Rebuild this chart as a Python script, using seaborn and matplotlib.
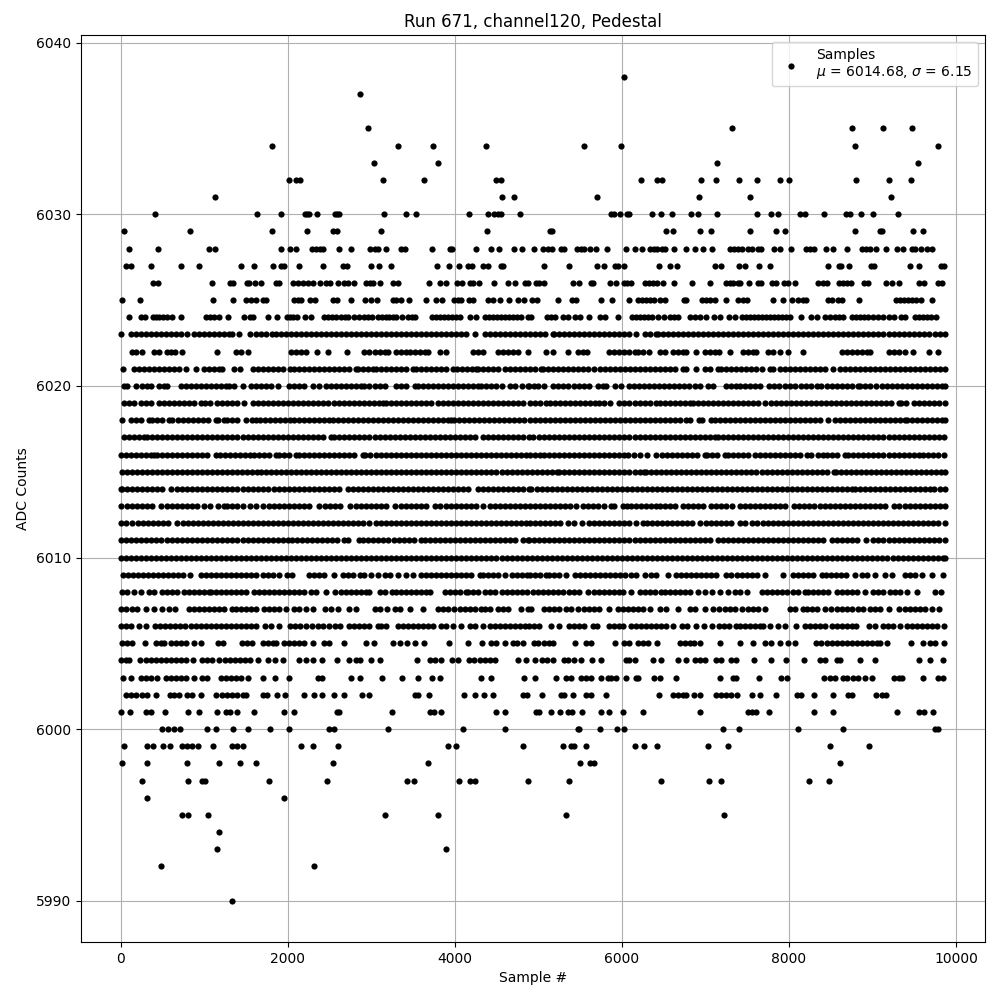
import pandas as pd
import matplotlib
matplotlib.use("Agg")
import matplotlib.pyplot as plt
import seaborn as sns

# sample numbers, one list per ADC level
s6038 = [6024]
s6037 = [2864]
s6035 = [2960, 7320, 8760, 9132, 9468]
s6034 = [1808, 3320, 3740, 4376, 5544, 5988, 8796, 9780]
s6033 = [3032, 3800, 7140, 9540]
s6032 = [2012, 2096, 2144, 3140, 3632, 4496, 4556, 6228, 6416, 6480, 6948, 7128, 7404, 7620, 7896, 8004, 8808, 9192, 9456]
s6031 = [1136, 4568, 4712, 5700, 6924, 7536, 9216]
s6030 = [416, 1628, 1916, 2204, 2228, 2252, 2348, 2564, 2588, 2612, 3152, 3416, 3536, 4172, 4400, 4472, 4520, 4556, 4784,
         5868, 5904, 5976, 6060, 6084, 6360, 6468, 6600, 6828, 6912, 7140, 7620, 7788, 7872, 8136, 8196, 8424, 8688, 8736, 8868, 9012, 9300]
s6029 = [44, 836, 1808, 2228, 2540, 2588, 3116, 4388, 5140, 5164, 6528, 6612, 6936, 7068, 7536, 7848, 7956, 8796, 9096, 9120, 9480, 9600]
s6028 = [104, 452, 1064, 1136, 1916, 2024, 2096, 2288, 2336, 2384, 2420, 2612, 2756, 2984, 3044, 3080, 3176, 3356, 3404, 3728, 3944, 3968,
         4256, 4436, 4532, 4712, 4808, 4948, 5052, 5112, 5160, 5268, 5304, 5460, 5508, 5544, 5616, 5688, 5820, 6048, 6156, 6240, 6336, 6384,
         6420, 6480, 6516, 6624, 6768, 6876, 6972, 7080, 7296, 7344, 7392, 7440, 7512, 7560, 7632, 7668, 7824, 7896, 8028, 8208, 8256, 8304,
         8448, 8532, 8700, 8880, 8928, 8976, 9048, 9168, 9288, 9360, 9468, 9504, 9576, 9648, 9708]
s6027 = [68, 128, 368, 728, 944, 1448, 1592, 1820, 1916, 1952, 2132, 2420, 2660, 2708, 2996, 3092, 3236, 3788, 3932, 4052, 4160, 4208, 4340,
         4400, 4556, 4580, 5064, 5364, 5700, 5784, 5916, 5952, 6024, 6444, 6576, 6660, 7116, 7188, 7404, 7476, 7644, 7776, 8472, 8604, 8628,
         8724, 8988, 9024, 9444, 9552, 9820, 9860]
s6026 = [392, 452, 1092, 1316, 1352, 1508, 1532, 1604, 1676, 1856, 1892, 2060, 2120, 2180, 2240, 2300, 2384, 2456, 2504, 2600, 2672, 2720,
         2800, 2936, 2984, 3020, 3104, 3260, 3320, 3692, 3824, 3896, 4028, 4088, 4184, 4220, 4292, 4472, 4640, 4724, 4844, 4880, 4968, 5004,
         5064, 5412, 5484, 5628, 5652, 5856, 5928, 6024, 6060, 6108, 6276, 6324, 6372, 6420, 6492, 6624, 6840, 7056, 7248, 7296, 7332, 7392,
         7416, 7524, 7632, 7668, 7800, 7848, 7944, 7992, 8076, 8352, 8412, 8460, 8604, 8652, 8700, 8748, 8904, 8952, 9168, 9228, 9312, 9552,
         9612, 9780, 9828]
s6025 = [20, 236, 1112, 1352, 1496, 1556, 1616, 1700, 1736, 2072, 2120, 2156, 2264, 2324, 2540, 2588, 2756, 2924, 2996, 3068, 3260, 3296,
         3356, 3452, 3656, 3776, 3848, 3992, 4040, 4076, 4172, 4220, 4400, 4460, 4544, 4652, 4760, 4832, 4920, 4980, 5232, 5400, 5448, 5748,
         5880, 6084, 6192, 6240, 6288, 6336, 6384, 6456, 6516, 6744, 6768, 6960, 7008, 7056, 7116, 7248, 7392, 7452, 7500, 7812, 7932, 8040,
         8112, 8172, 8208, 8472, 8520, 8592, 8640, 8844, 9276, 9324, 9372, 9420, 9468, 9516, 9576, 9708]
s6024 = [104, 248, 296, 392, 428, 464, 512, 560, 620, 728, 1028, 1076, 1124, 1184, 1292, 1472, 1544, 1580, 1760, 1868, 1988, 2024, 2060, 2108,
         2204, 2276, 2432, 2480, 2528, 2576, 2636, 2684, 2720, 2792, 2852, 2912, 2960, 3008, 3080, 3128, 3176, 3212, 3260, 3296, 3368, 3440,
         3488, 3524, 3728, 3776, 3824, 3872, 3920, 3968, 4016, 4064, 4184, 4256, 4364, 4412, 4460, 4508, 4556, 4604, 4652, 4700, 4748, 4796,
         4880, 4908, 5100, 5148, 5196, 5292, 5352, 5436, 5496, 5604, 5736, 5796, 5952, 6120, 6168, 6216, 6264, 6312, 6360, 6432, 6504, 6576,
         6624, 6672, 6816, 6876, 6936, 7008, 7104, 7176, 7284, 7356, 7440, 7488, 7536, 7584, 7632, 7680, 7728, 7776, 7824, 7872, 7920, 7968,
         8016, 8148, 8268, 8340, 8436, 8496, 8556, 8604, 8652, 8760, 8808, 8856, 8904, 8952, 9012, 9072, 9132, 9192, 9252, 9336, 9384, 9504,
         9552, 9600, 9648, 9696, 9756]
s6023 = [8, 120, 180, 240, 300, 360, 420, 480, 540, 600, 660, 720, 800, 880, 940, 1000, 1060, 1120, 1180, 1240, 1300, 1340, 1420, 1544, 1620,
         1680, 1740, 1812, 1860, 1920, 1980, 2040, 2100, 2160, 2220, 2280, 2340, 2400, 2460, 2520, 2580, 2640, 2700, 2760, 2820, 2880, 2940,
         3000, 3060, 3120, 3180, 3240, 3300, 3360, 3420, 3480, 3540, 3600, 3660, 3720, 3780, 3840, 3900, 3960, 4020, 4080, 4140, 4240, 4360,
         4420, 4480, 4540, 4600, 4660, 4720, 4780, 4840, 4900, 4960, 5020, 5080, 5172, 5192, 5252, 5312, 5372, 5432, 5492, 5552, 5612, 5672,
         5732, 5792, 5852, 5912, 5972, 6032, 6092, 6172, 6272, 6340, 6404, 6432, 6492, 6552, 6612, 6672, 6732, 6792, 6852, 6912, 6972, 7032,
         7092, 7152, 7212, 7272, 7332, 7392, 7452, 7512, 7572, 7632, 7692, 7752, 7812, 7872, 7932, 7992, 8052, 8112, 8172, 8232, 8292, 8352,
         8412, 8472, 8532, 8592, 8652, 8712, 8772, 8832, 8892, 8952, 9012, 9072, 9132, 9192, 9252, 9312, 9372, 9432, 9492, 9552, 9612, 9672,
         9752, 9804, 9872]
s6022 = [140, 188, 260, 400, 460, 560, 600, 652, 732, 1160, 1388, 1440, 1520, 2040, 2100, 2160, 2220, 2348, 2480, 2712, 2920, 2980, 3040, 3100,
         3160, 3200, 3300, 3360, 3420, 3460, 3520, 3580, 3640, 3680, 3820, 3900, 4220, 4280, 4340, 4520, 4580, 4640, 4700, 4760, 4872, 5092,
         5172, 5360, 5472, 5532, 5580, 5852, 5912, 5972, 6032, 6092, 6152, 6192, 6252, 6324, 6452, 6512, 6612, 6672, 6732, 6772, 6892, 7000,
         7052, 7112, 7160, 7296, 7452, 7512, 7572, 7612, 7752, 7812, 7892, 7984, 8172, 8632, 8692, 8752, 8812, 8872, 8932, 8972, 9192, 9252,
         9312, 9392, 9480, 9680, 9780]
s6021 = [28, 160, 220, 280, 340, 400, 460, 520, 580, 640, 700, 780, 908, 1000, 1060, 1120, 1180, 1220, 1360, 1428, 1580, 1640, 1700, 1760, 1820,
         1880, 1940, 2028, 2080, 2140, 2200, 2260, 2320, 2380, 2440, 2500, 2560, 2620, 2680, 2740, 2820, 2840, 2900, 2960, 3020, 3060, 3120,
         3180, 3240, 3300, 3360, 3420, 3500, 3540, 3600, 3660, 3720, 3780, 3840, 3900, 3980, 4030, 4090, 4150, 4210, 4260, 4280, 4340, 4400,
         4460, 4520, 4600, 4660, 4720, 4780, 4840, 4900, 4960, 5032, 5060, 5120, 5180, 5240, 5300, 5360, 5420, 5480, 5540, 5600, 5672, 5740,
         5800, 5860, 5920, 5980, 6040, 6100, 6160, 6220, 6280, 6340, 6400, 6460, 6520, 6580, 6640, 6732, 6772, 6892, 6992, 7060, 7152, 7192,
         7252, 7312, 7372, 7432, 7492, 7552, 7612, 7672, 7772, 7812, 7892, 7952, 8012, 8072, 8132, 8192, 8252, 8312, 8372, 8432, 8532, 8612,
         8672, 8732, 8792, 8852, 8912, 8972, 9032, 9092, 9152, 9212, 9272, 9332, 9392, 9452, 9512, 9572, 9632, 9692, 9752, 9812, 9872]
s6020 = [40, 80, 188, 260, 320, 360, 460, 520, 560, 720, 780, 840, 900, 960, 1020, 1080, 1140, 1200, 1260, 1300, 1360, 1460, 1560, 1620, 1680,
         1740, 1800, 1880, 2020, 2080, 2140, 2200, 2300, 2380, 2460, 2520, 2580, 2640, 2700, 2760, 2820, 2880, 2920, 2980, 3040, 3100, 3160,
         3300, 3360, 3420, 3520, 3560, 3620, 3680, 3740, 3800, 3860, 3920, 3980, 4040, 4100, 4160, 4220, 4280, 4320, 4380, 4440, 4500, 4560,
         4660, 4720, 4800, 4872, 4892, 4950, 4992, 5064, 5180, 5240, 5300, 5360, 5432, 5492, 5550, 5612, 5712, 5770, 5812, 5924, 5992, 6092,
         6150, 6210, 6270, 6330, 6390, 6450, 6510, 6570, 6630, 6690, 6750, 6810, 6870, 6930, 7032, 7092, 7252, 7310, 7372, 7420, 7480, 7540,
         7600, 7652, 7764, 7824, 7884, 7952, 8012, 8072, 8140, 8200, 8260, 8332, 8380, 8452, 8512, 8572, 8632, 8692, 8752, 8832, 8852, 8912,
         8972, 9044, 9112, 9172, 9232, 9292, 9352, 9412, 9472, 9532, 9592, 9652, 9712, 9772, 9832, 9872]
s6019 = [40, 100, 160, 240, 300, 360, 460, 520, 580, 640, 700, 760, 820, 880, 960, 1012, 1068, 1160, 1220, 1280, 1340, 1400, 1480, 1580, 1640, 1700,
         1760, 1820, 1880, 1940, 2000, 2060, 2120, 2180, 2240, 2300, 2360, 2420, 2480, 2560, 2612, 2672, 2732, 2792, 2852, 2912, 2972, 3032,
         3092, 3140, 3172, 3232, 3292, 3352, 3412, 3472, 3532, 3592, 3652, 3720, 3800, 3860, 3920, 3980, 4040, 4100, 4160, 4220, 4280, 4340,
         4400, 4460, 4520, 4580, 4640, 4700, 4760, 4820, 4900, 4960, 5020, 5092, 5144, 5204, 5264, 5324, 5384, 5444, 5504, 5564, 5624, 5684,
         5732, 5792, 5864, 5972, 6032, 6092, 6152, 6212, 6272, 6332, 6412, 6460, 6520, 6580, 6640, 6700, 6760, 6812, 6852, 6912, 6972, 7032,
         7092, 7152, 7212, 7272, 7332, 7392, 7452, 7512, 7572, 7632, 7712, 7780, 7840, 7900, 7960, 8020, 8080, 8140, 8200, 8260, 8320, 8380,
         8440, 8500, 8560, 8620, 8680, 8740, 8800, 8860, 8920, 8980, 9040, 9100, 9160, 9220, 9312, 9340, 9400, 9492, 9552, 9612, 9672, 9732,
         9792, 9872]
s6018 = [20, 128, 188, 248, 340, 380, 440, 500, 580, 620, 692, 752, 812, 872, 932, 992, 1052, 1140, 1172, 1240, 1280, 1340, 1400, 1500, 1572, 1620,
         1672, 1732, 1792, 1852, 1912, 1972, 2032, 2080, 2140, 2200, 2260, 2320, 2380, 2440, 2500, 2540, 2600, 2660, 2720, 2780, 2840, 2900,
         2960, 3020, 3080, 3140, 3200, 3260, 3320, 3380, 3440, 3500, 3560, 3620, 3680, 3740, 3800, 3860, 3920, 3960, 3988, 4048, 4108, 4168,
         4228, 4288, 4348, 4408, 4468, 4528, 4588, 4648, 4708, 4768, 4828, 4900, 4960, 5020, 5080, 5140, 5200, 5260, 5320, 5380, 5440, 5500,
         5560, 5620, 5680, 5740, 5800, 5860, 5920, 5980, 6040, 6100, 6160, 6220, 6280, 6340, 6400, 6460, 6520, 6580, 6640, 6700, 6772, 6820,
         6924, 6964, 7072, 7116, 7176, 7236, 7296, 7356, 7416, 7476, 7536, 7596, 7656, 7716, 7776, 7836, 7896, 7956, 8016, 8076, 8136, 8196,
         8256, 8316, 8376, 8472, 8552, 8612, 8672, 8732, 8792, 8852, 8912, 8972, 9032, 9092, 9152, 9212, 9272, 9332, 9392, 9412, 9472, 9532,
         9592, 9652, 9712, 9772, 9832, 9872]
s6017 = [40, 100, 160, 220, 280, 320, 380, 440, 500, 560, 620, 680, 740, 800, 860, 920, 980, 1040, 1100, 1160, 1220, 1280, 1340, 1400, 1460, 1520,
         1580, 1640, 1700, 1760, 1820, 1880, 1940, 2000, 2060, 2120, 2180, 2240, 2300, 2360, 2420, 2520, 2560, 2620, 2680, 2740, 2800, 2860,
         2920, 2980, 3040, 3100, 3160, 3220, 3280, 3340, 3400, 3460, 3520, 3580, 3640, 3700, 3760, 3820, 3880, 3940, 4000, 4060, 4120, 4180,
         4240, 4340, 4400, 4460, 4520, 4580, 4640, 4700, 4760, 4820, 4892, 4932, 5012, 5072, 5132, 5192, 5252, 5312, 5372, 5432, 5492, 5552,
         5612, 5672, 5732, 5792, 5852, 5912, 5972, 6032, 6092, 6152, 6212, 6272, 6332, 6392, 6452, 6512, 6572, 6632, 6692, 6752, 6812, 6872,
         6932, 6992, 7052, 7112, 7152, 7212, 7272, 7332, 7392, 7452, 7512, 7572, 7632, 7692, 7752, 7812, 7872, 7932, 7992, 8052, 8112, 8172,
         8232, 8292, 8352, 8412, 8472, 8532, 8592, 8652, 8712, 8772, 8832, 8892, 8952, 9012, 9072, 9132, 9192, 9252, 9312, 9372, 9432, 9492,
         9552, 9612, 9672, 9732, 9792, 9852]
s6016 = [0, 60, 120, 180, 240, 300, 360, 400, 440, 500, 560, 620, 680, 740, 800, 860, 920, 980, 1040, 1140, 1188, 1248, 1308, 1368, 1428, 1488, 1548,
         1600, 1652, 1712, 1772, 1860, 1900, 1960, 2020, 2100, 2140, 2200, 2260, 2320, 2380, 2440, 2500, 2560, 2620, 2680, 2740, 2800, 2900,
         2932, 2992, 3052, 3112, 3172, 3232, 3292, 3352, 3412, 3472, 3532, 3592, 3652, 3712, 3772, 3832, 3892, 3952, 4012, 4072, 4132, 4192,
         4252, 4312, 4372, 4432, 4492, 4552, 4612, 4672, 4732, 4792, 4852, 4900, 4960, 5020, 5072, 5124, 5184, 5244, 5304, 5364, 5424, 5484,
         5544, 5604, 5664, 5724, 5784, 5844, 5904, 5964, 6024, 6072, 6140, 6220, 6300, 6412, 6484, 6544, 6604, 6664, 6724, 6784, 6844, 6904,
         6992, 7020, 7080, 7140, 7232, 7272, 7332, 7392, 7452, 7512, 7592, 7652, 7712, 7772, 7832, 7892, 7952, 8012, 8072, 8132, 8212, 8264,
         8352, 8412, 8460, 8520, 8580, 8672, 8712, 8772, 8832, 8892, 8952, 9012, 9072, 9132, 9192, 9252, 9312, 9372, 9432, 9492, 9552, 9604,
         9664, 9724, 9784, 9852]
s6015 = [12, 72, 132, 192, 252, 312, 372, 432, 492, 552, 612, 672, 732, 792, 852, 912, 972, 1032, 1092, 1152, 1212, 1272, 1332, 1392, 1452, 1512, 1572,
         1632, 1680, 1740, 1800, 1860, 1920, 1980, 2040, 2100, 2160, 2220, 2280, 2340, 2400, 2460, 2520, 2580, 2640, 2700, 2760, 2820, 2880,
         2940, 3000, 3060, 3120, 3180, 3240, 3300, 3360, 3420, 3480, 3540, 3600, 3660, 3720, 3780, 3840, 3900, 3960, 4020, 4080, 4140, 4200,
         4260, 4320, 4380, 4440, 4500, 4560, 4620, 4680, 4740, 4800, 4860, 4920, 4980, 5040, 5100, 5160, 5220, 5252, 5312, 5372, 5432, 5492,
         5552, 5612, 5672, 5732, 5792, 5852, 5912, 5972, 6032, 6092, 6152, 6212, 6260, 6292, 6352, 6412, 6472, 6532, 6592, 6652, 6712, 6772,
         6832, 6892, 6952, 7012, 7072, 7132, 7192, 7252, 7312, 7372, 7432, 7492, 7552, 7612, 7672, 7732, 7792, 7852, 7912, 7972, 8032, 8092,
         8152, 8212, 8272, 8332, 8392, 8452, 8540, 8564, 8624, 8684, 8744, 8804, 8864, 8924, 8984, 9044, 9104, 9164, 9224, 9284, 9344, 9404,
         9464, 9524, 9584, 9644, 9704, 9764, 9824, 9870]
s6014 = [0, 20, 80, 140, 200, 260, 320, 380, 440, 500, 600, 680, 740, 800, 860, 920, 980, 1040, 1100, 1160, 1220, 1280, 1340, 1400, 1460, 1520, 1580,
         1640, 1700, 1760, 1840, 1892, 1952, 2012, 2072, 2132, 2192, 2252, 2312, 2372, 2432, 2492, 2552, 2612, 2720, 2780, 2840, 2900, 2960,
         3020, 3080, 3140, 3200, 3260, 3320, 3380, 3440, 3500, 3560, 3620, 3680, 3740, 3800, 3860, 3920, 3980, 4040, 4100, 4160, 4280, 4340,
         4400, 4460, 4520, 4580, 4640, 4700, 4760, 4820, 4892, 4912, 4980, 5040, 5100, 5160, 5220, 5280, 5340, 5400, 5460, 5520, 5580, 5640,
         5700, 5760, 5820, 5880, 5940, 6000, 6060, 6120, 6180, 6240, 6300, 6360, 6420, 6480, 6540, 6600, 6660, 6720, 6780, 6840, 6900, 6960,
         7020, 7080, 7140, 7200, 7260, 7320, 7380, 7440, 7500, 7560, 7620, 7680, 7740, 7800, 7860, 7920, 7980, 8040, 8100, 8160, 8220, 8280,
         8340, 8400, 8460, 8520, 8580, 8640, 8700, 8750, 8792, 8852, 8912, 8972, 9032, 9092, 9152, 9212, 9272, 9332, 9392, 9452, 9512, 9572,
         9632, 9692, 9732, 9812, 9872]
s6013 = [8, 80, 140, 200, 260, 320, 380, 480, 560, 620, 680, 740, 800, 860, 920, 1000, 1068, 1172, 1240, 1280, 1340, 1400, 1460, 1548, 1620, 1700,
         1780, 1840, 1900, 1960, 2020, 2080, 2140, 2200, 2260, 2380, 2452, 2512, 2572, 2632, 2748, 2820, 2880, 2940, 3000, 3060, 3120, 3180,
         3280, 3360, 3420, 3480, 3540, 3600, 3660, 3760, 3828, 3900, 3960, 4020, 4080, 4140, 4200, 4260, 4340, 4420, 4480, 4540, 4600, 4660,
         4720, 4780, 4840, 4900, 4960, 5020, 5080, 5140, 5200, 5260, 5320, 5380, 5452, 5532, 5592, 5652, 5712, 5792, 5872, 5912, 6012, 6060,
         6112, 6172, 6232, 6292, 6352, 6412, 6452, 6512, 6572, 6632, 6732, 6792, 6852, 6912, 6972, 7072, 7124, 7184, 7244, 7324, 7412, 7472,
         7532, 7592, 7652, 7712, 7772, 7832, 7892, 7952, 8060, 8124, 8184, 8244, 8304, 8372, 8432, 8492, 8552, 8612, 8672, 8732, 8792, 8852,
         8912, 8972, 9032, 9092, 9152, 9260, 9312, 9392, 9452, 9512, 9572, 9632, 9692, 9752, 9812, 9864]
s6012 = [0, 60, 140, 212, 272, 332, 392, 452, 512, 572, 680, 748, 808, 868, 928, 988, 1048, 1108, 1168, 1228, 1288, 1348, 1408, 1468, 1528, 1588, 1648,
         1708, 1768, 1828, 1888, 1948, 2008, 2068, 2128, 2188, 2248, 2308, 2368, 2428, 2480, 2540, 2600, 2660, 2720, 2780, 2840, 2900, 2980,
         3052, 3112, 3172, 3232, 3292, 3352, 3412, 3472, 3532, 3592, 3652, 3712, 3772, 3832, 3892, 3952, 4012, 4072, 4132, 4192, 4252, 4312,
         4372, 4432, 4492, 4552, 4612, 4672, 4732, 4792, 4852, 4900, 4960, 5020, 5080, 5140, 5200, 5260, 5352, 5432, 5524, 5604, 5664, 5724,
         5784, 5844, 5904, 5964, 6024, 6084, 6172, 6252, 6300, 6360, 6420, 6480, 6540, 6600, 6660, 6720, 6780, 6840, 6932, 7012, 7072, 7132,
         7192, 7252, 7312, 7412, 7472, 7564, 7624, 7684, 7744, 7804, 7864, 7924, 7984, 8044, 8104, 8164, 8224, 8284, 8344, 8404, 8464, 8524,
         8584, 8644, 8704, 8764, 8824, 8884, 8944, 9004, 9064, 9124, 9184, 9244, 9304, 9364, 9424, 9484, 9544, 9604, 9664, 9724, 9784, 9872]
s6011 = [0, 60, 120, 180, 240, 300, 360, 420, 480, 560, 620, 680, 740, 800, 860, 920, 980, 1040, 1100, 1160, 1220, 1280, 1340, 1400, 1460, 1520, 1580,
         1640, 1700, 1760, 1820, 1880, 1940, 2000, 2052, 2112, 2172, 2232, 2292, 2352, 2412, 2472, 2532, 2592, 2680, 2720, 2860, 2900, 2960, 3020,
         3080, 3140, 3200, 3268, 3328, 3388, 3448, 3508, 3600, 3640, 3700, 3760, 3820, 3880, 3940, 4000, 4060, 4120, 4180, 4240, 4300, 4360,
         4420, 4480, 4540, 4600, 4660, 4720, 4820, 4880, 4892, 4952, 5012, 5072, 5132, 5192, 5252, 5312, 5372, 5432, 5492, 5552, 5612, 5672,
         5732, 5792, 5852, 5912, 5972, 6032, 6092, 6152, 6212, 6272, 6332, 6392, 6452, 6512, 6572, 6632, 6692, 6752, 6812, 6872, 6932, 6992,
         7052, 7152, 7212, 7272, 7332, 7392, 7452, 7512, 7572, 7632, 7692, 7752, 7812, 7872, 7932, 7992, 8052, 8112, 8172, 8232, 8292, 8352,
         8412, 8512, 8580, 8640, 8700, 8760, 8820, 8924, 9012, 9072, 9132, 9192, 9252, 9312, 9372, 9432, 9492, 9552, 9612, 9672, 9732, 9792,
         9870]
s6010 = [0, 60, 120, 180, 240, 300, 360, 420, 480, 540, 600, 660, 720, 780, 840, 900, 960, 1020, 1080, 1140, 1200, 1260, 1320, 1380, 1440, 1500, 1560,
         1620, 1680, 1740, 1800, 1860, 1920, 1980, 2040, 2100, 2160, 2220, 2280, 2340, 2400, 2460, 2520, 2580, 2640, 2700, 2760, 2820, 2880,
         2940, 3000, 3060, 3120, 3180, 3240, 3300, 3360, 3420, 3480, 3540, 3600, 3660, 3720, 3780, 3840, 3900, 3960, 4020, 4080, 4140, 4200,
         4260, 4320, 4380, 4440, 4500, 4560, 4620, 4680, 4740, 4800, 4860, 4920, 4980, 5040, 5100, 5160, 5220, 5280, 5340, 5400, 5460, 5520,
         5580, 5640, 5700, 5760, 5820, 5880, 5940, 6000, 6060, 6120, 6180, 6240, 6300, 6360, 6420, 6480, 6540, 6600, 6660, 6720, 6780, 6840,
         6900, 6960, 7020, 7080, 7140, 7200, 7260, 7320, 7380, 7440, 7500, 7560, 7620, 7680, 7740, 7800, 7860, 7920, 7980, 8040, 8100, 8160,
         8220, 8280, 8340, 8400, 8460, 8520, 8580, 8640, 8700, 8760, 8820, 8880, 8940, 9000, 9060, 9120, 9180, 9240, 9300, 9360, 9420, 9480,
         9540, 9600, 9660, 9720, 9780, 9840, 9872]
s6009 = [28, 88, 148, 208, 268, 328, 388, 448, 508, 568, 628, 688, 748, 828, 960, 1020, 1080, 1140, 1200, 1260, 1320, 1380, 1440, 1500, 1560, 1620, 1708,
         1768, 1828, 1900, 1988, 2052, 2260, 2320, 2380, 2440, 2560, 2660, 2720, 2780, 2868, 2920, 3000, 3080, 3160, 3220, 3320, 3412, 3500,
         3600, 3660, 3720, 3780, 3840, 3900, 3960, 4020, 4080, 4140, 4200, 4300, 4340, 4400, 4460, 4520, 4600, 4680, 4740, 4800, 4860, 4900,
         4960, 5020, 5092, 5132, 5192, 5252, 5332, 5444, 5504, 5564, 5624, 5684, 5744, 5804, 5864, 5924, 5984, 6044, 6104, 6164, 6272, 6352,
         6412, 6552, 6652, 6712, 6772, 6832, 6892, 6952, 7012, 7072, 7132, 7244, 7304, 7380, 7440, 7500, 7560, 7620, 7712, 7932, 8052, 8112,
         8172, 8232, 8292, 8392, 8444, 8504, 8564, 8624, 8684, 8792, 8872, 8932, 9032, 9152, 9232, 9392, 9452, 9512, 9592, 9712, 9844]
s6008 = [20, 80, 160, 248, 340, 400, 492, 552, 612, 672, 760, 820, 880, 940, 1000, 1060, 1080, 1140, 1200, 1260, 1320, 1380, 1440, 1500, 1600, 1660, 1720,
         1780, 1840, 1900, 1960, 2020, 2080, 2140, 2200, 2280, 2340, 2460, 2572, 2640, 2700, 2760, 2820, 2880, 2940, 2980, 3100, 3160, 3252,
         3292, 3352, 3412, 3472, 3532, 3592, 3652, 3700, 3880, 3940, 4000, 4060, 4140, 4160, 4220, 4280, 4360, 4420, 4480, 4560, 4628, 4688,
         4748, 4808, 4868, 4932, 4992, 5052, 5112, 5172, 5232, 5292, 5372, 5432, 5492, 5592, 5672, 5732, 5792, 5852, 5912, 5972, 6012, 6112,
         6212, 6272, 6332, 6392, 6472, 6512, 6572, 6632, 6692, 6752, 6812, 6912, 7000, 7084, 7180, 7268, 7352, 7420, 7500, 7672, 7732, 7792,
         7852, 7912, 7972, 8052, 8112, 8192, 8232, 8292, 8352, 8412, 8472, 8572, 8632, 8692, 8752, 8812, 8912, 9012, 9072, 9132, 9212, 9272,
         9324, 9412, 9532, 9752, 9820]
s6007 = [0, 60, 140, 200, 300, 400, 500, 580, 652, 820, 880, 940, 1000, 1060, 1120, 1180, 1240, 1340, 1380, 1440, 1500, 1560, 1620, 1720, 1780, 1840,
         1900, 1980, 2080, 2140, 2220, 2300, 2448, 2520, 2600, 2732, 2820, 3040, 3100, 3188, 3280, 3340, 3460, 3620, 3800, 3860, 3920, 3988,
         4060, 4120, 4180, 4240, 4320, 4360, 4420, 4520, 4580, 4640, 4788, 4880, 4912, 5072, 5132, 5192, 5252, 5332, 5392, 5472, 5552, 5612,
         5672, 5732, 5852, 5952, 6012, 6072, 6132, 6192, 6252, 6332, 6452, 6532, 6668, 6812, 6880, 6992, 7092, 7164, 7232, 7292, 7352, 7440,
         7512, 7572, 7632, 7712, 8012, 8072, 8172, 8212, 8272, 8332, 8432, 8500, 8572, 8632, 8692, 8752, 8832, 8892, 8972, 9032, 9092, 9192,
         9312, 9392, 9452, 9512, 9572, 9632, 9712, 9796]
s6006 = [0, 60, 120, 220, 300, 412, 472, 532, 592, 652, 712, 772, 840, 900, 960, 1020, 1080, 1140, 1200, 1260, 1320, 1380, 1440, 1500, 1560, 1620, 1728,
         1800, 1900, 2028, 2088, 2148, 2220, 2288, 2360, 2420, 2500, 2572, 2632, 2740, 2800, 2860, 2920, 2980, 3080, 3120, 3180, 3320, 3380,
         3440, 3500, 3560, 3620, 3680, 3740, 3840, 3900, 3980, 4080, 4188, 4240, 4340, 4420, 4480, 4540, 4600, 4660, 4720, 4780, 4840, 4892,
         4952, 5012, 5152, 5244, 5364, 5424, 5484, 5544, 5652, 5708, 5844, 5904, 5972, 6020, 6112, 6172, 6232, 6292, 6352, 6412, 6472, 6532,
         6612, 6724, 6784, 6892, 6984, 7080, 7164, 7224, 7284, 7372, 7412, 7472, 7532, 7592, 7652, 7692, 7772, 7872, 7952, 8084, 8192, 8252,
         8312, 8372, 8432, 8512, 8572, 8632, 8692, 8752, 8804, 8964, 9032, 9124, 9184, 9244, 9332, 9412, 9472, 9532, 9592, 9652, 9712, 9772,
         9852]
s6005 = [20, 80, 140, 288, 420, 480, 520, 600, 660, 720, 780, 880, 960, 1172, 1228, 1452, 1508, 1568, 1700, 1760, 1820, 1860, 1960, 2020, 2080, 2140,
         2200, 2300, 2432, 2492, 2672, 2936, 3032, 3264, 3340, 3428, 3520, 3628, 3928, 4160, 4328, 4440, 4500, 4604, 4700, 4740, 4820, 4952,
         4992, 5072, 5132, 5180, 5440, 5572, 5632, 5924, 6032, 6092, 6192, 6252, 6312, 6420, 6692, 6752, 6812, 6860, 6932, 7176, 7416, 7572,
         7712, 7780, 7892, 7992, 8072, 8320, 8380, 8452, 8512, 8572, 8632, 8692, 8752, 8812, 8872, 8932, 8992, 9052, 9092, 9172, 9456, 9600,
         9692, 9752, 9852]
s6004 = [0, 60, 100, 228, 300, 360, 420, 480, 540, 600, 660, 720, 788, 872, 980, 1040, 1100, 1180, 1252, 1312, 1372, 1432, 1492, 1552, 1640, 1760, 1852,
         1940, 2140, 2220, 2300, 2412, 2588, 2732, 2820, 2872, 3000, 3100, 3548, 3700, 3760, 3840, 3972, 4040, 4172, 4228, 4300, 4360, 4420,
         4484, 4760, 4856, 4956, 5044, 5100, 5172, 5312, 5352, 5432, 5512, 5640, 5748, 6052, 6084, 6160, 6372, 6468, 6672, 6772, 6872, 6932,
         6992, 7132, 7192, 7312, 7372, 7584, 7788, 7968, 8184, 8372, 8432, 8580, 8612, 8856, 9036, 9552, 9684, 9840]
s6003 = [32, 120, 240, 300, 360, 440, 548, 608, 668, 728, 788, 880, 980, 1040, 1200, 1260, 1320, 1380, 1440, 1520, 1700, 1852, 2012, 2360, 2412, 2760,
         2868, 3128, 3368, 3560, 3728, 3824, 4316, 4436, 4832, 4956, 5208, 5332, 5392, 5512, 5572, 5632, 5748, 5832, 5872, 5932, 6052, 6164,
         6192, 6384, 6452, 6648, 7172, 7332, 7364, 7640, 7900, 7980, 8420, 8492, 8552, 8644, 8700, 8764, 8824, 8916, 9000, 9252, 9312, 9352,
         9600, 9780, 9844]
s6002 = [60, 120, 180, 260, 320, 420, 588, 640, 700, 800, 860, 960, 1148, 1220, 1280, 1340, 1400, 1460, 1500, 1700, 1752, 1868, 1972, 2192, 2320, 2408,
         2552, 2680, 2888, 2972, 3520, 3560, 3692, 4112, 4244, 4348, 4460, 4812, 4868, 5044, 5272, 5312, 5412, 5572, 5632, 5808, 6444, 6612,
         6672, 6732, 6772, 6864, 6936, 7132, 7192, 7252, 7312, 7384, 7560, 7652, 7848, 8092, 8140, 8300, 8524, 8712, 8752, 9048, 9112, 9164]
s6001 = [8, 108, 300, 368, 536, 812, 944, 1160, 1260, 1308, 1400, 1592, 1952, 2072, 2588, 2612, 3248, 3704, 3752, 3836, 4496, 4604, 4972, 5004, 5148,
         5256, 5352, 5400, 5520, 5748, 5844, 6012, 6252, 6936, 7512, 7560, 7612, 7764, 8304, 8532, 9288, 9552, 9612, 9720]
s6000 = [500, 572, 644, 716, 1040, 1148, 1352, 1520, 1784, 2012, 2492, 2552, 3200, 4100, 4604, 5472, 5492, 5736, 5940, 6024, 7212, 7404, 8112, 8652, 9752, 9780]
s5999 = [44, 320, 392, 512, 596, 740, 800, 860, 932, 1112, 1340, 1400, 1460, 2156, 2300, 2600, 3916, 4016, 4820, 5292, 5392, 5432, 5568, 6152, 6264, 6420, 7032, 7272, 8496, 8964]
s5998 = [20, 320, 800, 1184, 1436, 1616, 2540, 3680, 5496, 5616, 5664, 8616]
s5997 = [260, 812, 980, 1008, 1772, 2468, 3428, 3512, 4052, 4184, 4248, 4876, 5364, 6468, 7044, 7188, 8244, 8484]
s5996 = [320, 1952]
s5995 = [740, 808, 1052, 3164, 3800, 5328, 7224]
s5994 = [1184]
s5993 = [1160, 3896]
s5992 = [488, 2312]
s5990 = [1340]

levels = [6038, 6037, 6035, 6034, 6033, 6032, 6031, 6030, 6029, 6028, 6027, 6026, 6025, 6024, 6023, 6022, 6021, 6020, 6019, 6018, 6017, 6016,
          6015, 6014, 6013, 6012, 6011, 6010, 6009, 6008, 6007, 6006, 6005, 6004, 6003, 6002, 6001, 6000, 5999, 5998, 5997, 5996, 5995, 5994,
          5993, 5992, 5990]
rows = [s6038, s6037, s6035, s6034, s6033, s6032, s6031, s6030, s6029, s6028, s6027, s6026, s6025, s6024, s6023, s6022, s6021, s6020, s6019,
        s6018, s6017, s6016, s6015, s6014, s6013, s6012, s6011, s6010, s6009, s6008, s6007, s6006, s6005, s6004, s6003, s6002, s6001, s6000,
        s5999, s5998, s5997, s5996, s5995, s5994, s5993, s5992, s5990]

xticks = [0, 2000, 4000, 6000, 8000, 10000]
yticks = [5990, 6000, 6010, 6020, 6030, 6040]

df = pd.DataFrame(
    [(x, lev) for lev, row in zip(levels, rows) for x in row],
    columns=["sample", "adc"],
)

fig, ax = plt.subplots(figsize=(10, 10), dpi=100)
sns.scatterplot(data=df, x="sample", y="adc", color="black", marker=".", s=80,
                linewidth=0, zorder=2, ax=ax,
                label="Samples\n$\\mu$ = 6014.68, $\\sigma$ = 6.15")

ax.set_title("Run 671, channel120, Pedestal")
ax.set_xlabel("Sample #")
ax.set_ylabel("ADC Counts")
ax.set_xticks(xticks)
ax.set_yticks(yticks)
ax.set_xlim(-479, 10347)
ax.set_ylim(5987.6, 6040.44)
ax.grid(True)
ax.legend(loc="upper right")
fig.subplots_adjust(left=0.0805, right=0.985, top=0.965, bottom=0.058)
plt.savefig("out.png")
plt.close()
